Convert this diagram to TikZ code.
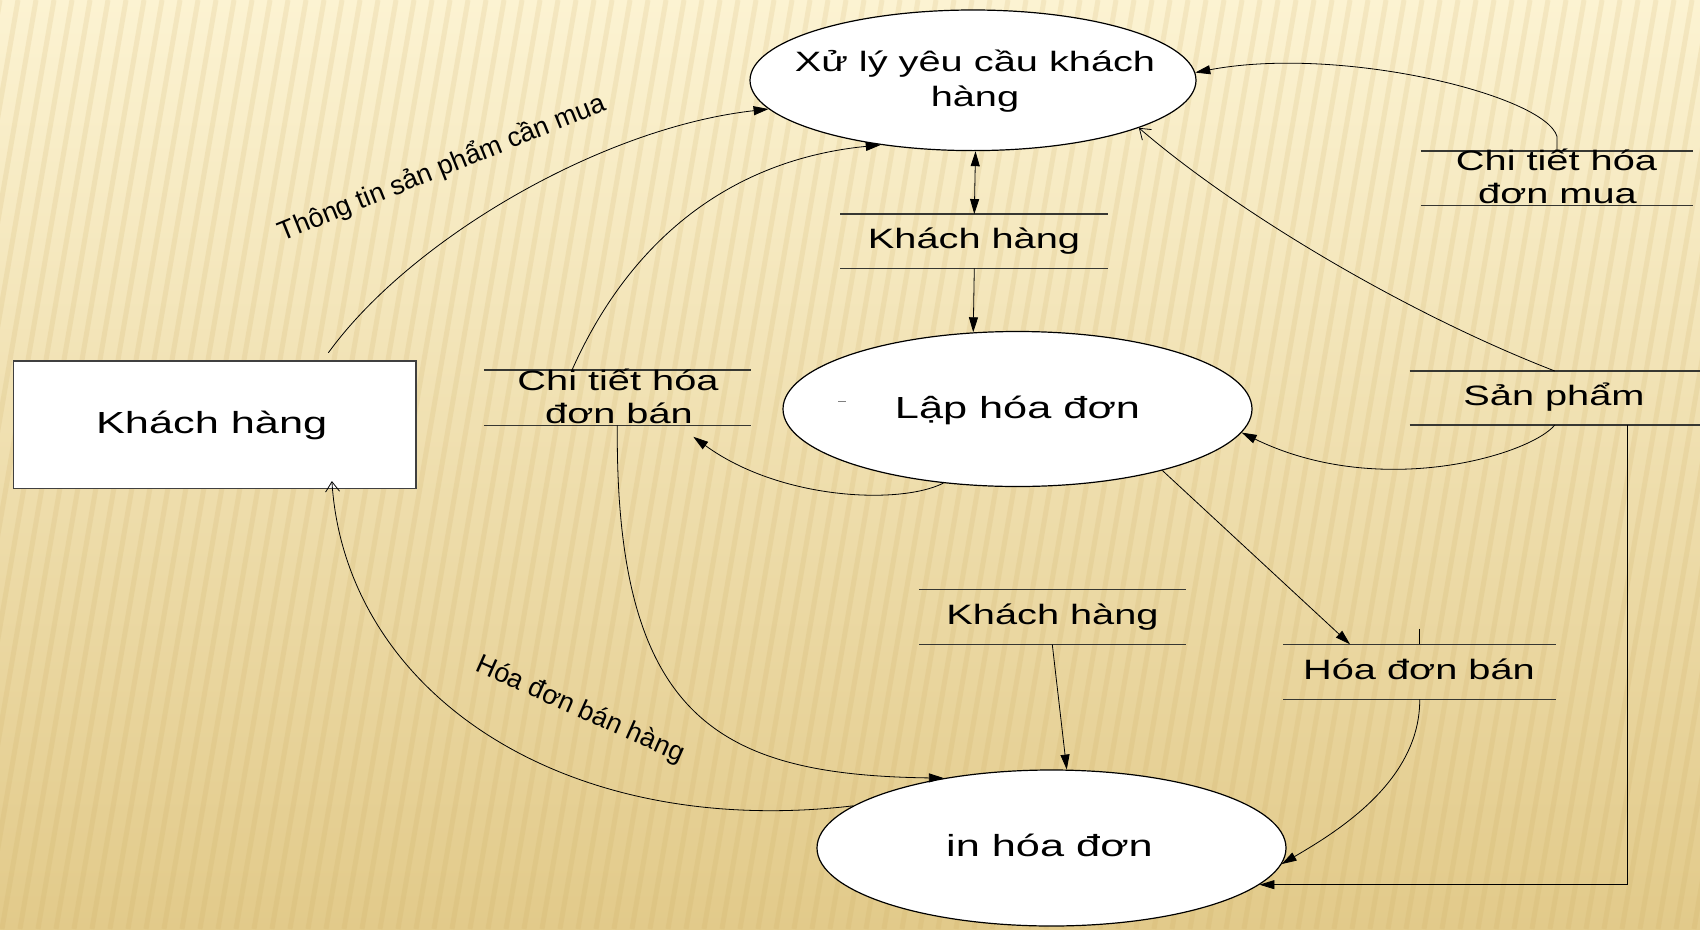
\documentclass[tikz,border=0pt]{standalone}
\usepackage{fontspec}
\setmainfont{Liberation Sans}
\newfontfamily\dfd[FakeStretch=1.42]{Liberation Sans}
\newfontfamily\lblf{Liberation Sans}
\usetikzlibrary{shapes.geometric,arrows.meta}
\definecolor{bgtop}{RGB}{252,243,210}
\definecolor{bgbot}{RGB}{226,202,138}
\definecolor{stripec}{RGB}{200,166,90}
\definecolor{storec}{RGB}{55,55,50}
\begin{document}
\begin{tikzpicture}[x=1pt,y=-1pt,
  proc/.style={ellipse, draw=black, fill=white, line width=1.2pt, inner sep=0pt},
  ent/.style={rectangle, draw=black!75, fill=white, line width=1.2pt, inner sep=0pt},
  store/.style={rectangle, inner sep=0pt, outer sep=0pt},
  storeline/.style={draw=storec, line width=1.3pt},
  conn/.style={draw=black, line width=0.8pt},
  fa/.style={-{Triangle[length=15pt,width=9pt]}},
  fab/.style={{Triangle[length=15pt,width=9pt]}-{Triangle[length=15pt,width=9pt]}},
  oa/.style={-{Straight Barb[length=10pt,width=14pt]}},
  txt/.style={anchor=base, inner sep=0pt},
  big/.style={font=\dfd\fontsize{30.5}{34}\selectfont},
  mid/.style={font=\dfd\fontsize{28}{32}\selectfont},
  lbl/.style={font=\lblf\fontsize{27}{30}\selectfont, inner sep=0pt}
]
\useasboundingbox (0,0) rectangle (1700,929);
% background
\shade[top color=bgtop, bottom color=bgbot] (0,0) rectangle (1700,929);
\begin{scope}
\clip (0,0) rectangle (1700,929);
\foreach \i in {0,...,105} {
  \draw[stripec, opacity=0.15, line width=5pt] (\i*18-160, 929) -- (\i*18, 0);
}
\end{scope}

% processes and entity
\node[proc, minimum width=446pt, minimum height=140.6pt] (xuly) at (973,80.3) {};
\node[proc, minimum width=469pt, minimum height=155pt] (lap) at (1017.5,409) {};
\node[proc, minimum width=469pt, minimum height=156pt] (inhd) at (1051.5,848) {};
\node[ent, minimum width=402.2pt, minimum height=127.4pt] (kh) at (214.9,424.7) {};

% data stores
\node[store, minimum width=268pt, minimum height=54.3pt] (kh1) at (974.3,241.2) {};
\node[store, minimum width=272.5pt, minimum height=54.7pt] (cthdm) at (1557,178.3) {};
\node[store, minimum width=267pt, minimum height=55.3pt] (cthdb) at (617.3,397.7) {};
\node[store, minimum width=290.4pt, minimum height=54pt] (spm) at (1554.8,398) {};
\node[store, minimum width=267pt, minimum height=55pt] (kh2) at (1052.3,617.1) {};
\node[store, minimum width=273pt, minimum height=55pt] (hdb) at (1419.75,671.8) {};
\foreach \n in {kh1,cthdm,cthdb,spm,kh2,hdb} {
  \draw[storeline] (\n.north west) -- (\n.north east) (\n.south west) -- (\n.south east);
}

% texts
\node[txt, mid] (t1) at (975,71.7) {Xử lý yêu cầu khách};
\node[txt, mid] (t2) at (975,106) {hàng};
\node[txt, big] (t3) at (1017.5,418.3) {Lập hóa đơn};
\node[txt, big] (t4) at (1049.5,856) {in hóa đơn};
\node[txt, big] (t5) at (211.7,433.3) {Khách hàng};
\node[txt, mid] (t6) at (974,248.3) {Khách hàng};
\node[txt, mid] (t7) at (1556.5,170.7) {Chi tiết hóa};
\node[txt, mid] (t8) at (1557.5,203.3) {đơn mua};
\node[txt, mid] (t9) at (618,390.5) {Chi tiết hóa};
\node[txt, mid] (t10) at (619,423) {đơn bán};
\node[txt, mid] (t11) at (1554,405) {Sản phẩm};
\node[txt, mid] (t12) at (1052.5,624) {Khách hàng};
\node[txt, mid] (t13) at (1419,679.3) {Hóa đơn bán};
\draw[gray, line width=1pt] (838,401.7) -- (846,401.7);

% flow labels
\node[lbl, rotate=22] (l1) at (442,168) {Thông tin sản phẩm cần mua};
\node[lbl, rotate=-24] (l2) at (580,710) {Hóa đơn bán hàng};

% connectors
\draw[conn, fa] ([xshift=113.5pt,yshift=7.7pt]kh.north) .. controls (410,240) and (600,128) .. (xuly.188);
\draw[conn, fa] ([xshift=-45.3pt]cthdb.north) .. controls (630,240) and (730,160) .. (xuly.215);
\draw[conn, fab] ([xshift=2.5pt]xuly.south) -- (kh1.north);
\draw[conn, fa] (kh1.south) -- (lap.120);
\draw[conn, fa] (cthdm.north) -- ++(0,-14.5) .. controls (1545,95) and (1340,45) .. (xuly.2);
\draw[conn, oa] (spm.north) .. controls (1410,315) and (1240,215) .. (xuly.-16);
\draw[conn, fa] (spm.south) .. controls (1530,455) and (1380,500) .. (lap.-6.6);
\draw[conn, fa] (lap.225) .. controls (900,505) and (780,500) .. ([xshift=76pt,yshift=-11.4pt]cthdb.south);
\draw[conn, fa] (lap.-23.4) -- ([xshift=-69.7pt]hdb.north);
\draw[conn] (hdb.north) -- ++(0,-15);
\draw[conn, fa] (kh2.south) -- (inhd.79.5);
\draw[conn, fa] (hdb.south) .. controls (1420,780) and (1340,830) .. (inhd.-4.4);
\draw[conn, fa] ([xshift=72.2pt]spm.south) |- (inhd.-10.85);
\draw[conn, fa] (cthdb.south) .. controls (615,720) and (720,775) .. (inhd.147.5);
\draw[conn, oa] (inhd.168) .. controls (560,840) and (345,690) .. ([xshift=117pt,yshift=8pt]kh.south);
\end{tikzpicture}
\end{document}
